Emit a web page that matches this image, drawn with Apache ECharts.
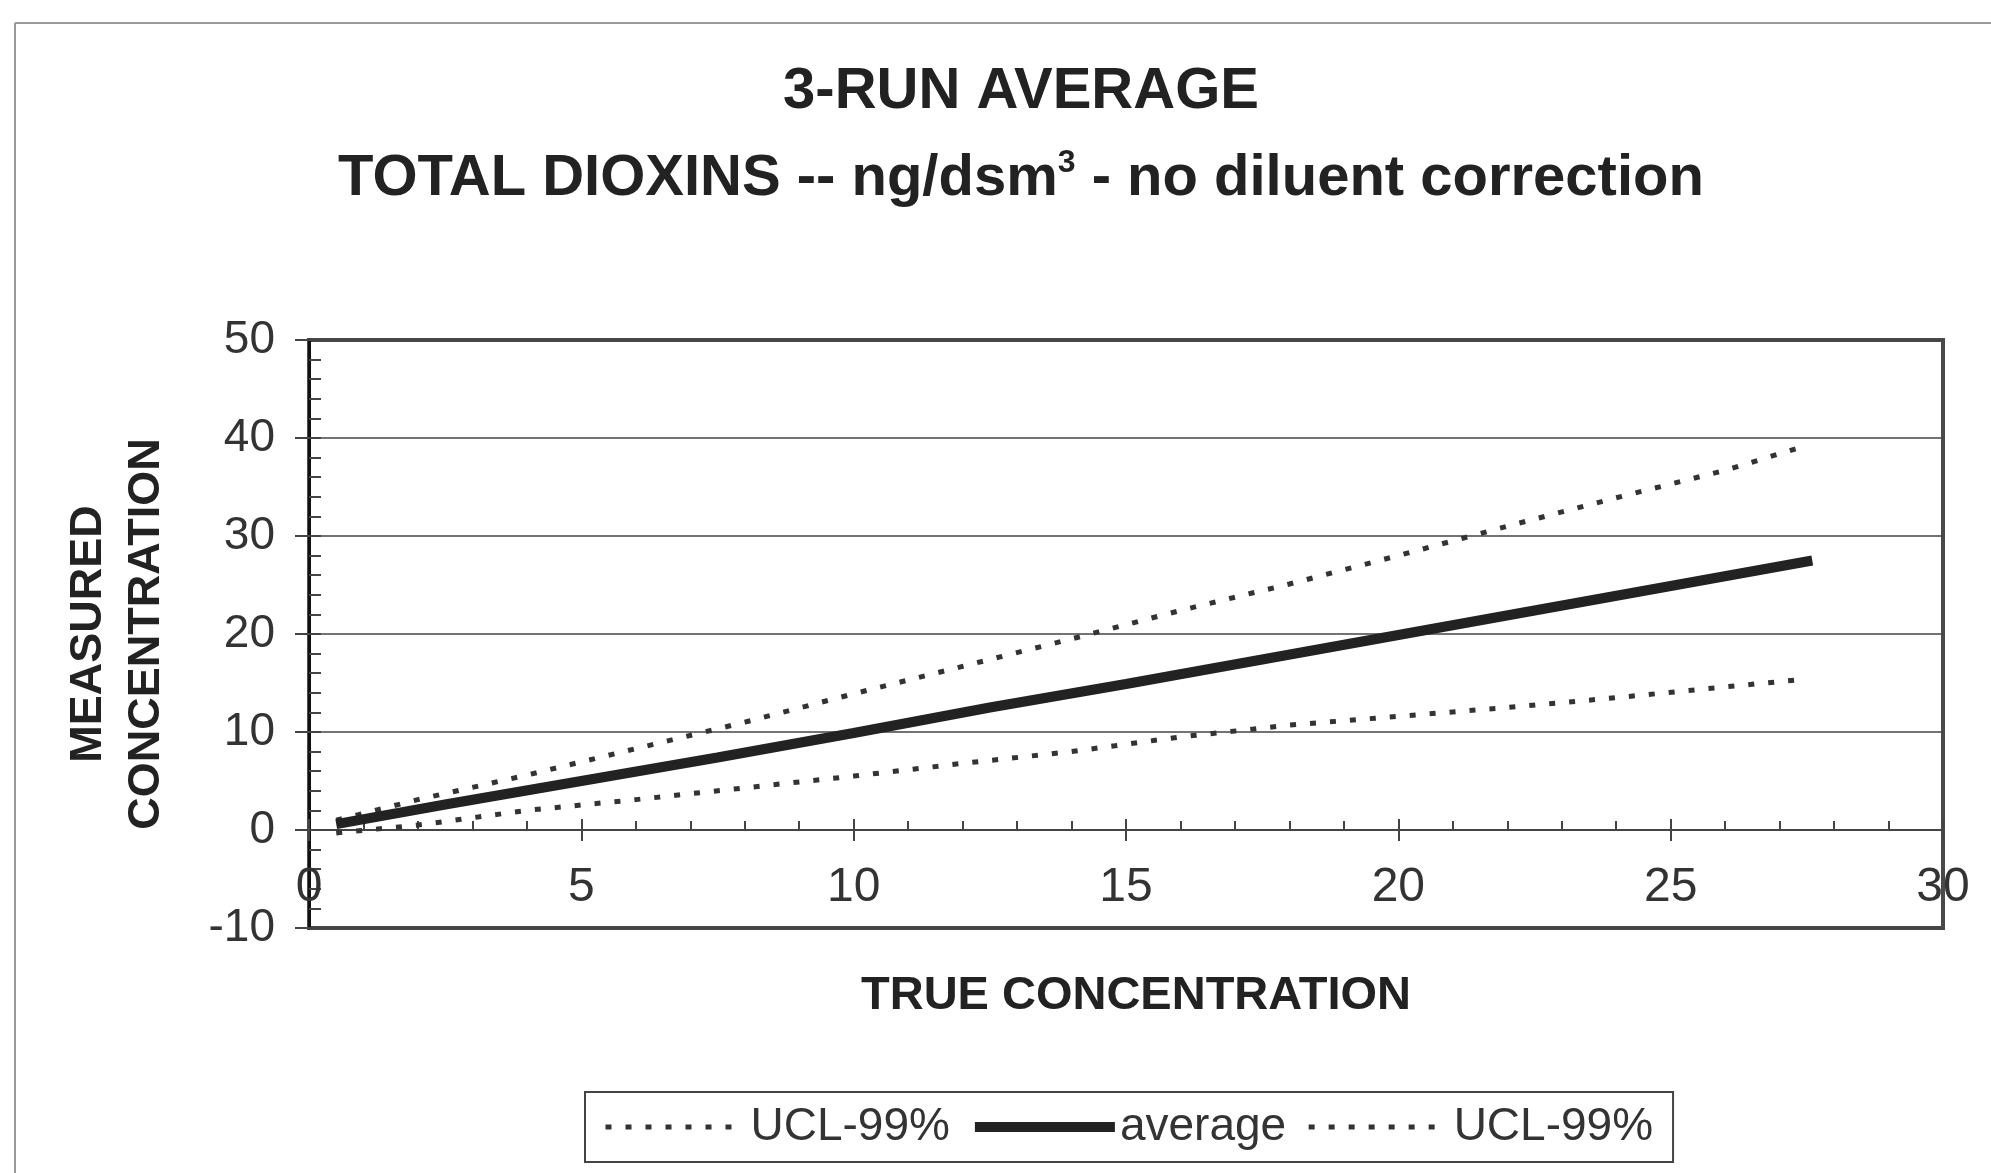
<!DOCTYPE html>
<html>
<head>
<meta charset="utf-8">
<script src="https://cdn.jsdelivr.net/npm/echarts@6/dist/echarts.min.js"></script>
<style>
  html, body { margin: 0; padding: 0; background: #fff; }
  #chart { width: 1991px; height: 1173px; }
</style>
</head>
<body>
<div id="chart"></div>
<script>
// ---- data ----
const trueConcUCL = [0.5, 2, 4, 6, 8, 10, 12, 14, 16, 18, 20, 22, 24, 26, 27.3];
const uclUpper    = [1.0, 3.1, 5.6, 8.3, 11.0, 13.9, 16.7, 19.5, 22.4, 25.1, 28.0, 31.0, 33.9, 36.7, 38.9];
const uclLower    = [-0.3, 0.5, 2.0, 3.1, 4.3, 5.5, 6.8, 8.0, 9.5, 10.7, 11.6, 12.5, 13.5, 14.6, 15.3];
const trueConcAvg = [0.5, 2.5, 5, 7.5, 10, 12.5, 15, 17.5, 20, 22.5, 25, 27.6];
const average     = [0.6, 2.6, 5.0, 7.4, 9.9, 12.5, 14.9, 17.4, 19.9, 22.4, 24.9, 27.5];
const xTicks = { min: 0, max: 30, interval: 5 };
const yTicks = { min: -10, max: 50, interval: 10 };
const seriesNames = ['UCL-99% upper', 'average', 'UCL-99% lower'];

const FONT = "Arial, 'Liberation Sans', Helvetica, sans-serif";

const zip = (xs, ys) => xs.map((x, i) => [x, ys[i]]);

const GRID = { left: 309, right: 48, top: 340, bottom: 245 };
const plotH = 1173 - GRID.top - GRID.bottom;
// shift of the x axis from the grid bottom up to the value 0 (computed from the scale)
const zeroShift = -plotH * (0 - yTicks.min) / (yTicks.max - yTicks.min);

const chart = echarts.init(document.getElementById('chart'), null, { renderer: 'canvas' });

const dotted = { color: '#333', width: 5, type: [6, 14], cap: 'butt' };
const solid = { color: '#222', width: 10 };

const option = {
  backgroundColor: '#ffffff',
  animation: false,
  title: [
    {
      text: '3-RUN AVERAGE',
      left: 1016, top: 58, textAlign: 'center',
      textStyle: { fontFamily: FONT, fontSize: 58, fontWeight: 'bold', color: '#222' }
    },
    {
      text: '{a|TOTAL DIOXINS -- ng/dsm}{s|3}{a| - no diluent correction}',
      left: 1016, top: 142, textAlign: 'center',
      textStyle: {
        rich: {
          a: { fontFamily: FONT, fontSize: 58, fontWeight: 'bold', color: '#222', lineHeight: 64 },
          s: { fontFamily: FONT, fontSize: 32, fontWeight: 'bold', color: '#222', lineHeight: 28, verticalAlign: 'top' }
        }
      }
    }
  ],
  graphic: [
    { type: 'line', shape: { x1: 15, y1: 23, x2: 1991, y2: 23 }, style: { stroke: '#999', lineWidth: 2 } },
    { type: 'line', shape: { x1: 15, y1: 23, x2: 15, y2: 1173 }, style: { stroke: '#999', lineWidth: 2 } }
  ],
  legend: {
    data: [
      { name: seriesNames[0], lineStyle: { width: 5, type: [6, 14], color: '#333' } },
      { name: seriesNames[1], lineStyle: { width: 10, type: 'solid', color: '#222' } },
      { name: seriesNames[2], lineStyle: { width: 5, type: [6, 14], color: '#333' } }
    ],
    left: 585, top: 1092,
    orient: 'horizontal',
    itemWidth: 140, itemHeight: 10, itemGap: 20,
    padding: [12, 20, 12, 18],
    borderColor: '#444', borderWidth: 2,
    itemStyle: { opacity: 0 },
    formatter: name => name.indexOf('UCL') === 0 ? 'UCL-99%' : name,
    textStyle: { fontFamily: FONT, fontSize: 46, color: '#333' }
  },
  grid: {
    left: GRID.left, right: GRID.right, top: GRID.top, bottom: GRID.bottom,
    show: true, borderColor: '#4a4a4a', borderWidth: 4, backgroundColor: 'transparent'
  },
  xAxis: [
    {
      type: 'value', min: xTicks.min, max: xTicks.max, interval: xTicks.interval,
      position: 'bottom', offset: zeroShift,
      axisLine: { show: true, onZero: false, lineStyle: { color: '#444', width: 2 } },
      axisTick: { show: true, inside: false, length: 11, lineStyle: { color: '#444', width: 2 } },
      axisLabel: { fontFamily: FONT, fontSize: 48, color: '#333', margin: 34 },
      splitLine: { show: false },
      name: 'TRUE CONCENTRATION', nameLocation: 'middle', nameGap: 143,
      nameTextStyle: { fontFamily: FONT, fontSize: 47, fontWeight: 'bold', color: '#222', padding: [0, 0, 0, 20] }
    },
    {
      type: 'value', min: xTicks.min, max: xTicks.max, interval: xTicks.interval,
      position: 'bottom', offset: zeroShift,
      axisLine: { show: false, onZero: false },
      axisTick: { show: true, inside: true, length: 11, lineStyle: { color: '#444', width: 2 } },
      minorTick: { show: true, splitNumber: 5, length: 9, lineStyle: { color: '#444', width: 2 } },
      axisLabel: { show: false },
      splitLine: { show: false }
    }
  ],
  yAxis: [
    {
      type: 'value', min: yTicks.min, max: yTicks.max, interval: yTicks.interval,
      position: 'left',
      axisLine: { show: true, onZero: false, lineStyle: { color: '#111', width: 3 } },
      axisTick: { show: true, inside: false, length: 14, lineStyle: { color: '#444', width: 2 } },
      axisLabel: { fontFamily: FONT, fontSize: 46, color: '#333', margin: 34 },
      splitLine: { show: true, lineStyle: { color: '#444', width: 1.5 } },
      name: 'MEASURED\nCONCENTRATION', nameLocation: 'middle', nameRotate: 90, nameGap: 133,
      nameTextStyle: { fontFamily: FONT, fontSize: 45, fontWeight: 'bold', color: '#222', lineHeight: 58 }
    },
    {
      type: 'value', min: yTicks.min, max: yTicks.max, interval: yTicks.interval,
      position: 'left',
      axisLine: { show: false, onZero: false },
      axisTick: { show: true, inside: true, length: 12, lineStyle: { color: '#444', width: 2 } },
      minorTick: { show: true, splitNumber: 5, length: 12, lineStyle: { color: '#444', width: 2 } },
      axisLabel: { show: false },
      splitLine: { show: false }
    }
  ],
  series: [
    {
      name: seriesNames[0], type: 'line', xAxisIndex: 0, yAxisIndex: 0,
      data: zip(trueConcUCL, uclUpper), symbol: 'none',
      itemStyle: { color: '#333' }, lineStyle: dotted
    },
    {
      name: seriesNames[1], type: 'line', xAxisIndex: 0, yAxisIndex: 0,
      data: zip(trueConcAvg, average), symbol: 'none',
      itemStyle: { color: '#222' }, lineStyle: solid
    },
    {
      name: seriesNames[2], type: 'line', xAxisIndex: 0, yAxisIndex: 0,
      data: zip(trueConcUCL, uclLower), symbol: 'none',
      itemStyle: { color: '#333' }, lineStyle: dotted
    }
  ]
};

chart.setOption(option);
</script>
</body>
</html>
